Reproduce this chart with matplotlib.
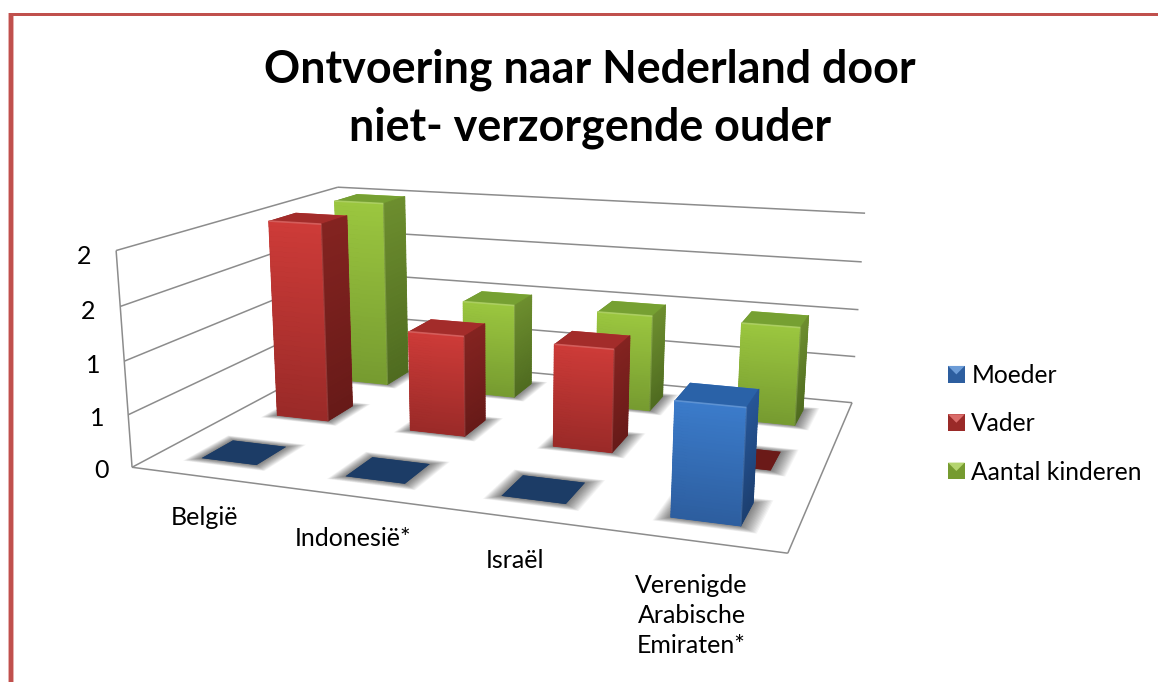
import numpy as np
import matplotlib
matplotlib.use('Agg')
import matplotlib.pyplot as plt
from matplotlib.colors import to_rgb
from matplotlib.legend_handler import HandlerBase
from matplotlib.patches import Patch, Polygon, Rectangle
from mpl_toolkits.mplot3d import proj3d
from mpl_toolkits.mplot3d.art3d import Line3DCollection, Poly3DCollection

plt.rcParams['font.family'] = ['Lato', 'DejaVu Sans']

categories = ['België', 'Indonesië*', 'Israël', 'Verenigde\nArabische\nEmiraten*']
moeder = [0, 0, 0, 1]
vader = [2, 1, 1, 0]
kinderen = [2, 1, 1, 1]
series_names = ['Moeder', 'Vader', 'Aantal kinderen']
z_ticks = [0, 0.5, 1, 1.5, 2]
z_labels = ['0', '1', '1', '2', '2']

# top, front top, front bottom, side top, side bottom, flat (value 0)
colors = {
    'Moeder': ['#2a62a8', '#3b7bca', '#2d5e9f', '#265596', '#1c3f70', '#1c3c66'],
    'Vader': ['#a32c2a', '#cd3b38', '#9a2a28', '#832320', '#671a18', '#6b1a18'],
    'Aantal kinderen': ['#76a032', '#9bc63f', '#769b30', '#6c8d2e', '#4f6b20', '#4f6b20'],
}

BAR = 0.39
GRID = '#8c8c8c'

# camera: world corner -> pixel in the 1158x682 picture
world = [(0, 0, 0), (4, 0, 0), (4, 3, 0), (0, 3, 0), (0, 0, 2), (0, 3, 2), (4, 3, 2)]
pixel = [(132, 467), (788, 553), (852, 403), (343, 355), (116, 251), (338, 187), (865, 213)]


def fit_camera(world, pixel):
    rows = []
    rhs = []
    for (x, y, z), (u, v) in zip(world, pixel):
        rows.append([x, y, z, 1, 0, 0, 0, 0, -u * x, -u * y, -u * z])
        rows.append([0, 0, 0, 0, x, y, z, 1, -v * x, -v * y, -v * z])
        rhs += [u, v]
    p = np.linalg.lstsq(np.array(rows, float), np.array(rhs, float), rcond=None)[0]
    # third row is only a depth for the face sorting (bigger = further)
    return np.array([p[:4], p[4:8], [-0.1, 0.1, -1, 5], [p[8], p[9], p[10], 1]])


fig = plt.figure(figsize=(11.58, 6.82), dpi=100)
ax = fig.add_axes([0, 0, 1, 1], projection='3d', computed_zorder=False)
M = fit_camera(world, pixel)
ax.get_proj = lambda: M
ax.apply_aspect = lambda position=None: None
ax.set_axis_off()
ax.set_xticks([])
ax.set_yticks([])
ax.set_zticks([])


def label(x, y, z, s, **kw):
    u, v, _ = proj3d.proj_transform(x, y, z, M)
    ax.text2D(u, v, s, transform=ax.transData, fontsize=18, ha='center', color='black', **kw)


# walls
segments = []
for z in z_ticks:
    segments.append([(0, 0, z), (0, 3, z)])
    segments.append([(0, 3, z), (4, 3, z)])
segments.append([(0, 0, 0), (0, 0, 2)])
segments.append([(0, 0, 0), (4, 0, 0)])
segments.append([(4, 0, 0), (4, 3, 0)])
ax.add_collection3d(Line3DCollection(segments, colors=GRID, linewidths=1.1, zorder=1))

for z, lab in zip(z_ticks, z_labels):
    label(-0.23, 0, z - 0.07, lab, va='center')
for i, lab in enumerate(categories):
    label(i + 0.5, 0, -0.28, lab, va='top', linespacing=1.38)


def shadow(x0, y0, order):
    for grow in np.arange(0.006, 0.09, 0.006):
        x = [x0 - grow, x0 + BAR + grow * 1.2, x0 + BAR + grow * 1.2, x0 - grow]
        y = [y0 - grow, y0 - grow, y0 + BAR + grow, y0 + BAR + grow]
        verts = [list(zip(x, y, [0, 0, 0, 0]))]
        ax.add_collection3d(Poly3DCollection(verts, facecolors=(0, 0, 0, 0.042),
                                             edgecolors='none', zorder=order))


def bar(x0, y0, h, cols, order):
    c = [np.array(to_rgb(v)) for v in cols]
    if h == 0:
        ax.bar3d(x0, y0, 0, BAR, BAR, 0, color=[cols[5]] * 6, shade=False, zorder=order)
        return
    face = [cols[2], cols[0], cols[1], cols[1], cols[3], cols[3]]
    ax.bar3d(x0, y0, 0, BAR, BAR, h, color=face, shade=False, zorder=order)
    # vertical gradient on the two visible sides
    n = 40
    zs = np.linspace(0, h, n + 1)
    front, side, fc, sc = [], [], [], []
    for k in range(n):
        t = k / (n - 1)
        a, b = zs[k], zs[k + 1]
        front.append([(x0, y0, a), (x0 + BAR, y0, a), (x0 + BAR, y0, b), (x0, y0, b)])
        side.append([(x0 + BAR, y0, a), (x0 + BAR, y0 + BAR, a), (x0 + BAR, y0 + BAR, b), (x0 + BAR, y0, b)])
        fc.append(c[2] * (1 - t) + c[1] * t)
        sc.append(c[4] * (1 - t) + c[3] * t)
    ax.add_collection3d(Poly3DCollection(front, facecolors=fc, edgecolors=fc, linewidths=0.6, zorder=order + 0.1))
    ax.add_collection3d(Poly3DCollection(side, facecolors=sc, edgecolors=sc, linewidths=0.6, zorder=order + 0.1))
    # bevel highlight along the top edge and the front corner
    ax.add_collection3d(Line3DCollection([[(x0, y0, h), (x0 + BAR, y0, h)]], colors=[c[1] * 0.7 + 0.3],
                                         linewidths=[1.2], alpha=0.6, zorder=order + 0.2))
    ax.add_collection3d(Line3DCollection([[(x0 + BAR, y0, 0), (x0 + BAR, y0, h)]], colors=[c[1] * 0.7 + 0.3],
                                         linewidths=[1.0], alpha=0.3, zorder=order + 0.2))


values = {'Moeder': moeder, 'Vader': vader, 'Aantal kinderen': kinderen}
order = 10
for s in [2, 1, 0]:
    name = series_names[s]
    for i in range(len(categories)):
        x0 = i + 0.505 - BAR / 2
        y0 = s + 0.5 - BAR / 2
        shadow(x0, y0, order)
        bar(x0, y0, values[name][i], colors[name], order + 1)
        order += 2


class Pyramid(HandlerBase):
    def create_artists(self, legend, orig_handle, xdescent, ydescent, width, height, fontsize, trans):
        cols = orig_handle.cols
        light = np.array(to_rgb(cols[1])) * 0.75 + 0.25
        x0, y0 = -xdescent, -ydescent
        x1, y1 = x0 + width, y0 + height
        cx, cy = (x0 + x1) / 2, (y0 + y1) / 2
        square = Polygon([(x0, y0), (x1, y0), (x1, y1), (x0, y1)], closed=True, facecolor=cols[2],
                         edgecolor='none', transform=trans)
        top = Polygon([(x0, y1), (x1, y1), (cx, cy)], closed=True, facecolor=light,
                      edgecolor='none', transform=trans)
        return [square, top]


handles = []
for name in series_names:
    h = Patch(label=name)
    h.cols = colors[name]
    handles.append(h)
fig.legend(handles, series_names, handler_map={Patch: Pyramid()}, loc='upper left',
           bbox_to_anchor=(948 / 1158, 1 - 364 / 682), frameon=False, fontsize=17.7,
           handlelength=0.68, handleheight=0.68, handletextpad=0.27, labelspacing=1.03,
           borderpad=0, borderaxespad=0)

fig.text(590 / 1158, 1 - 70 / 682, 'Ontvoering naar Nederland door', fontsize=32.3, fontweight='bold',
         ha='center', va='center')
fig.text(590 / 1158, 1 - 128 / 682, 'niet- verzorgende ouder', fontsize=32.3, fontweight='bold',
         ha='center', va='center')

# frame of the page, only top and left fall inside the picture
fig.add_artist(Rectangle((8 / 1158, 0), 6 / 1158, 1 - 13 / 682, transform=fig.transFigure, color='#e6b0ae', lw=0))
fig.add_artist(Rectangle((9 / 1158, 0), 4 / 1158, 1 - 13 / 682, transform=fig.transFigure, color='#c0504d', lw=0))
fig.add_artist(Rectangle((9 / 1158, 1 - 16 / 682), 1, 3 / 682, transform=fig.transFigure, color='#c0504d', lw=0))

ax.viewLim.intervalx = (0, 1158)
ax.viewLim.intervaly = (682, 0)
fig.savefig('out.png', dpi=100)
